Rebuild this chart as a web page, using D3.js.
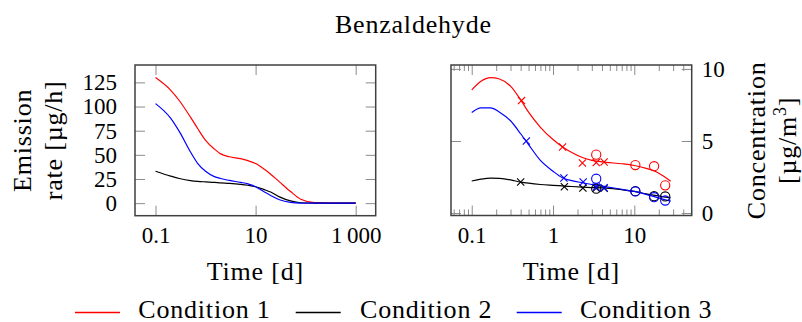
<!DOCTYPE html>
<html>
<head>
<meta charset="utf-8">
<script src="https://cdn.jsdelivr.net/npm/d3@7"></script>
<style>
  html, body { margin: 0; padding: 0; background: #fff; }
  svg { display: block; font-family: "Liberation Serif", "DejaVu Serif", serif; }
  .lbl { letter-spacing: 0.8px; }
</style>
</head>
<body>
<svg id="chart" width="802" height="322"></svg>
<script>
// ---- Emission rate model (µg/h) over time (d) ----
const emitTime  = [0.1, 0.2, 0.3, 0.5, 0.7, 1, 1.5, 2, 3, 5, 7, 10, 15, 20, 30, 50, 80, 150, 300, 1000];
const emitCond1 = [130, 117, 106, 89, 77, 65, 56, 51, 48, 46, 44, 41, 35, 30, 22, 12, 4, 0.5, 0, 0];
const emitCond2 = [33, 28, 25.5, 23.3, 22.5, 22, 21.5, 21, 20.5, 19.5, 18.5, 17, 14, 11.5, 6.5, 2.3, 0.4, 0, 0, 0];
const emitCond3 = [103, 88, 74, 53, 41, 33, 27.5, 25.5, 23.5, 21.5, 20, 17, 11.5, 8, 3.5, 0.8, 0.1, 0, 0, 0];

// ---- Modelled chamber concentration (µg/m³) ----
const concTime  = [0.1, 0.13, 0.17, 0.22, 0.3, 0.4, 0.5, 0.7, 1, 1.3, 1.7, 2.3, 3, 4.5, 7, 10, 14, 18, 23, 28];
const concCond1 = [8.55, 9.15, 9.4, 9.3, 8.8, 7.85, 7.0, 5.95, 5.1, 4.6, 4.2, 3.85, 3.65, 3.52, 3.42, 3.3, 3.1, 2.9, 2.55, 2.2];
const concCond2 = [2.22, 2.35, 2.42, 2.4, 2.3, 2.15, 2.07, 1.98, 1.92, 1.88, 1.84, 1.8, 1.77, 1.73, 1.62, 1.5, 1.33, 1.22, 1.12, 1.05];
const concCond3 = [6.98, 7.3, 7.3, 7.0, 6.4, 5.5, 4.75, 3.65, 2.9, 2.45, 2.25, 2.1, 1.98, 1.82, 1.65, 1.5, 1.3, 1.12, 0.95, 0.82];

// ---- Measurements: crosses (first chamber run) and circles (second run) ----
const crossTime1 = [0.41, 1.31, 2.3, 3.4, 4.25];
const crossConc1 = [7.8, 4.58, 3.47, 3.5, 3.54];
const crossTime2 = [0.40, 1.38, 2.33, 3.4, 4.25];
const crossConc2 = [2.15, 1.82, 1.73, 1.72, 1.72];
const crossTime3 = [0.47, 1.36, 2.35, 3.4, 4.25];
const crossConc3 = [5.0, 2.43, 2.15, 1.8, 1.75];
const circleTime = [3.4, 10.3, 17.5, 24];
const circleConc1 = [4.05, 3.33, 3.25, 1.92];
const circleConc2 = [1.69, 1.52, 1.17, 1.15];
const circleConc3 = [2.38, 1.5, 1.1, 0.87];

// ---- Ticks and labels ----
const emitXTicks = [0.1, 10, 1000];
const emitXTickLabels = ["0.1", "10", "1\u2009000"];
const emitYTicks = [0, 25, 50, 75, 100, 125];
const concXTicks = [0.1, 1, 10];
const concXTickLabels = ["0.1", "1", "10"];
const concXMinor = [0.06, 0.07, 0.08, 0.09, 0.2, 0.3, 0.4, 0.5, 0.6, 0.7, 0.8, 0.9,
                    2, 3, 4, 5, 6, 7, 8, 9, 20, 30, 40, 50];
const concYTicks = [0, 5, 10];

const conditions = ["Condition 1", "Condition 2", "Condition 3"];
const colors = ["#ff0000", "#000000", "#0000ff"];

const svg = d3.select("#chart");
const TICK_FONT = 23, LABEL_FONT = 26;
const tickColor = "#8c8c8c", frameColor = "#404040";

// Panel geometry
const L = { x0: 135, x1: 375.7, y0: 65, y1: 215.7 };
const R = { x0: 451, x1: 691.7, y0: 65, y1: 215.5 };

const xL = d3.scaleLog().domain([Math.pow(10, -1.41), Math.pow(10, 3.4)]).range([L.x0, L.x1]);
const yL = d3.scaleLinear().domain([-13, 143]).range([L.y1, L.y0]);
const xR = d3.scaleLog().domain([Math.pow(10, -1.255), Math.pow(10, 1.706)]).range([R.x0, R.x1]);
const yR = d3.scaleLinear().domain([-0.17, 10.27]).range([R.y1, R.y0]);

function styleAxis(g) {
  g.attr("font-family", null).attr("font-size", TICK_FONT);
  g.select(".domain").remove();
  g.selectAll(".tick line").attr("stroke", tickColor).attr("stroke-width", 1);
  g.selectAll(".tick text").attr("fill", "#000");
}

function xAxes(P, x, vals, labels, minor) {
  const fmt = (d) => labels[vals.indexOf(d)];
  svg.append("g").attr("transform", `translate(0,${P.y1})`)
    .call(d3.axisBottom(x).tickValues(vals).tickFormat(fmt).tickSize(-10))
    .call(styleAxis)
    .call(g => g.selectAll(".tick text").attr("y", 27).attr("dy", 0));
  svg.append("g").attr("transform", `translate(0,${P.y0})`)
    .call(d3.axisTop(x).tickValues(vals).tickFormat("").tickSize(-10))
    .call(styleAxis);
  if (minor) {
    svg.append("g").attr("transform", `translate(0,${P.y1})`)
      .call(d3.axisBottom(x).tickValues(minor).tickFormat("").tickSize(-6))
      .call(styleAxis);
    svg.append("g").attr("transform", `translate(0,${P.y0})`)
      .call(d3.axisTop(x).tickValues(minor).tickFormat("").tickSize(-6))
      .call(styleAxis);
  }
}

function yAxes(P, y, vals, labelSide) {
  const left = svg.append("g").attr("transform", `translate(${P.x0},0)`)
    .call(d3.axisLeft(y).tickValues(vals).tickSize(-10).tickFormat(labelSide === "left" ? d3.format("d") : ""))
    .call(styleAxis);
  const right = svg.append("g").attr("transform", `translate(${P.x1},0)`)
    .call(d3.axisRight(y).tickValues(vals).tickSize(-10).tickFormat(labelSide === "right" ? d3.format("d") : ""))
    .call(styleAxis);
  if (labelSide === "left") left.selectAll(".tick text").attr("x", -18);
  else right.selectAll(".tick text").attr("x", 10);
}

// Axes and ticks
xAxes(L, xL, emitXTicks, emitXTickLabels, null);
yAxes(L, yL, emitYTicks, "left");
xAxes(R, xR, concXTicks, concXTickLabels, concXMinor);
yAxes(R, yR, concYTicks, "right");

// Curves
const emitSeries = [emitCond1, emitCond2, emitCond3];
const concSeries = [concCond1, concCond2, concCond3];

emitSeries.forEach((vals, i) => {
  const line = d3.line().x((d, k) => xL(emitTime[k])).y(d => yL(d)).curve(d3.curveMonotoneX);
  svg.append("path").attr("d", line(vals)).attr("fill", "none")
    .attr("stroke", colors[i]).attr("stroke-width", 1.2);
});

concSeries.forEach((vals, i) => {
  const line = d3.line().x((d, k) => xR(concTime[k])).y(d => yR(d)).curve(d3.curveMonotoneX);
  svg.append("path").attr("d", line(vals)).attr("fill", "none")
    .attr("stroke", colors[i]).attr("stroke-width", 1.2);
});

// Measurement markers
const crossSets = [[crossTime1, crossConc1], [crossTime2, crossConc2], [crossTime3, crossConc3]];
const circleSets = [circleConc1, circleConc2, circleConc3];
const cs = 3.6;
[0, 1, 2].forEach(i => {
  const [ts, vs] = crossSets[i];
  const g = svg.append("g").attr("stroke", colors[i]).attr("stroke-width", 1.1).attr("fill", "none");
  ts.forEach((t, k) => {
    const cx = xR(t), cy = yR(vs[k]);
    g.append("path").attr("d", `M${cx - cs},${cy - cs}L${cx + cs},${cy + cs}M${cx - cs},${cy + cs}L${cx + cs},${cy - cs}`);
  });
  svg.append("g").selectAll("circle").data(circleSets[i]).join("circle")
    .attr("cx", (d, k) => xR(circleTime[k])).attr("cy", d => yR(d)).attr("r", 4.6)
    .attr("fill", "none").attr("stroke", colors[i]).attr("stroke-width", 1.1);
});

// Frames
[L, R].forEach(P => {
  svg.append("rect").attr("x", P.x0).attr("y", P.y0)
    .attr("width", P.x1 - P.x0).attr("height", P.y1 - P.y0)
    .attr("fill", "none").attr("stroke", frameColor).attr("stroke-width", 1.5);
});

// Title
svg.append("text").attr("class", "lbl").attr("x", (L.x0 + R.x1) / 2).attr("y", 33)
  .attr("text-anchor", "middle").attr("font-size", LABEL_FONT).text("Benzaldehyde");

// Axis titles
svg.append("text").attr("class", "lbl").attr("x", (L.x0 + L.x1) / 2).attr("y", 280)
  .attr("text-anchor", "middle").attr("font-size", LABEL_FONT).text("Time [d]");
svg.append("text").attr("class", "lbl").attr("x", (R.x0 + R.x1) / 2).attr("y", 280)
  .attr("text-anchor", "middle").attr("font-size", LABEL_FONT).text("Time [d]");

const midY = (L.y0 + L.y1) / 2;
svg.append("text").attr("class", "lbl").attr("transform", `translate(31,${midY}) rotate(-90)`)
  .attr("text-anchor", "middle").attr("font-size", LABEL_FONT).text("Emission");
svg.append("text").attr("class", "lbl").attr("transform", `translate(62,${midY}) rotate(-90)`)
  .attr("text-anchor", "middle").attr("font-size", LABEL_FONT).text("rate [µg/h]");

svg.append("text").attr("class", "lbl").attr("transform", `translate(765,${midY}) rotate(-90)`)
  .attr("text-anchor", "middle").attr("font-size", LABEL_FONT).text("Concentration");
const unit = svg.append("text").attr("class", "lbl").attr("transform", `translate(796,${midY}) rotate(-90)`)
  .attr("text-anchor", "middle").attr("font-size", LABEL_FONT);
unit.append("tspan").text("[µg/m");
unit.append("tspan").attr("dy", -10).attr("font-size", 18).text("3");
unit.append("tspan").attr("dy", 10).text("]");

// Legend
const legendLineX = [75, 295.7, 516.7];
const legendTextX = [138.3, 360, 580];
const legend = svg.append("g");
conditions.forEach((name, i) => {
  legend.append("path")
    .attr("d", `M${legendLineX[i]},312.5H${legendLineX[i] + 45}`)
    .attr("fill", "none").attr("stroke", colors[i]).attr("stroke-width", 1.3);
  legend.append("text").attr("class", "lbl").attr("x", legendTextX[i]).attr("y", 317.5)
    .attr("font-size", LABEL_FONT).attr("fill", "#000").text(name);
});
</script>
</body>
</html>
